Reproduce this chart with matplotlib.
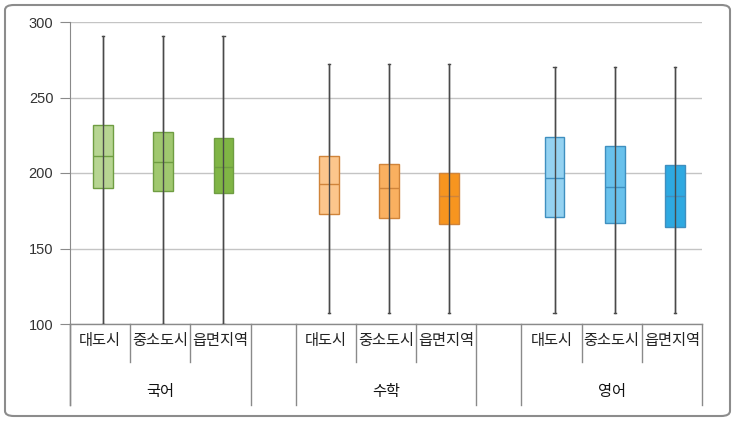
import matplotlib.pyplot as plt
from matplotlib.patches import FancyBboxPatch
from matplotlib.transforms import blended_transform_factory

plt.rcParams['font.family'] = ['Noto Sans CJK KR', 'DejaVu Sans']

subjects = ['국어', '수학', '영어']
regions = ['대도시', '중소도시', '읍면지역']

# per subject: one value per region
q1 = [[190, 188, 187], [173, 170, 166], [171, 167, 164]]
med = [[211, 207, 204], [193, 190, 185], [197, 191, 185]]
q3 = [[232, 227, 223], [211, 206, 200], [224, 218, 205]]
wlo = [[100, 100, 100], [107, 107, 107], [107, 107, 107]]
whi = [[291, 291, 291], [272, 272, 272], [270, 270, 270]]

fills = [['#b7d592', '#a0c86f', '#80b545'],
         ['#fcc68c', '#fab060', '#f7951f'],
         ['#94d2f1', '#68c1ec', '#2ea9e1']]
edges = ['#6f9d42', '#d0843a', '#3f8fbf']

group_start = [0, 3.75, 7.5]

fig = plt.figure(figsize=(7.41, 4.25), dpi=100)
ax = fig.add_axes([70 / 741, 101 / 425, 632 / 741, 302 / 425])

stats, pos, fc, ec = [], [], [], []
for g in range(3):
    for r in range(3):
        stats.append(dict(med=med[g][r], q1=q1[g][r], q3=q3[g][r],
                          whislo=wlo[g][r], whishi=whi[g][r], fliers=[]))
        pos.append(group_start[g] + r + 0.55)
        fc.append(fills[g][r])
        ec.append(edges[g])

bp = ax.bxp(stats, positions=pos, widths=0.33, patch_artist=True,
            showfliers=False, manage_ticks=False,
            whiskerprops=dict(color='#4a4a4a', linewidth=1),
            capprops=dict(color='#4a4a4a', linewidth=1),
            capwidths=0.04)
for box, f, e in zip(bp['boxes'], fc, ec):
    box.set_facecolor(f)
    box.set_edgecolor(e)
    box.set_linewidth(1)
    box.set_zorder(3)
for m, e in zip(bp['medians'], ec):
    m.set_color(e)
    m.set_linewidth(1)
    m.set_zorder(4)
# whisker line runs through the box
ax.vlines(pos, [s['whislo'] for s in stats], [s['whishi'] for s in stats],
          color='#4a4a4a', linewidth=1, zorder=5)

ax.set_xlim(0, 10.5)
ax.set_ylim(100, 300)
ax.set_yticks([100, 150, 200, 250, 300])
ax.yaxis.grid(True, color='#c4c4c4', linewidth=1)
ax.set_axisbelow(True)
ax.set_xticks([])
for s in ['top', 'right', 'bottom']:
    ax.spines[s].set_visible(False)
ax.spines['left'].set_color('#8a8a8a')
ax.tick_params(axis='y', length=7, color='#8a8a8a', labelcolor='#333333',
               labelsize=10.5, pad=5)
for t in ax.get_yticklabels():
    t.set_family(['Liberation Sans', 'DejaVu Sans'])

# category table under the axis
tr = blended_transform_factory(ax.transData, ax.transAxes)
line_kw = dict(color='#8a8a8a', linewidth=1, transform=tr, clip_on=False)
ax.plot([0, 10.5], [0, 0], **line_kw)
ax.plot([0, 0], [0, -0.268], **line_kw)
for g in range(3):
    x0 = group_start[g]
    for x in (x0, x0 + 3):
        ax.plot([x, x], [0, -0.268], **line_kw)
    for x in (x0 + 1, x0 + 2):
        ax.plot([x, x], [0, -0.126], **line_kw)
    for r in range(3):
        ax.text(x0 + r + 0.5, -0.055, regions[r], transform=tr, ha='center',
                va='center', fontsize=11, color='#222222')
    ax.text(x0 + 1.5, -0.225, subjects[g], transform=tr, ha='center',
            va='center', fontsize=11, fontweight='medium', color='#111111')

frame = FancyBboxPatch((5 / 741, 9 / 425), 725 / 741, 411 / 425,
                       boxstyle='round,pad=0,rounding_size=0.012',
                       transform=fig.transFigure, fill=False,
                       edgecolor='#8c8c8c', linewidth=1.5)
fig.patches.append(frame)

fig.savefig('out.png', dpi=100)
